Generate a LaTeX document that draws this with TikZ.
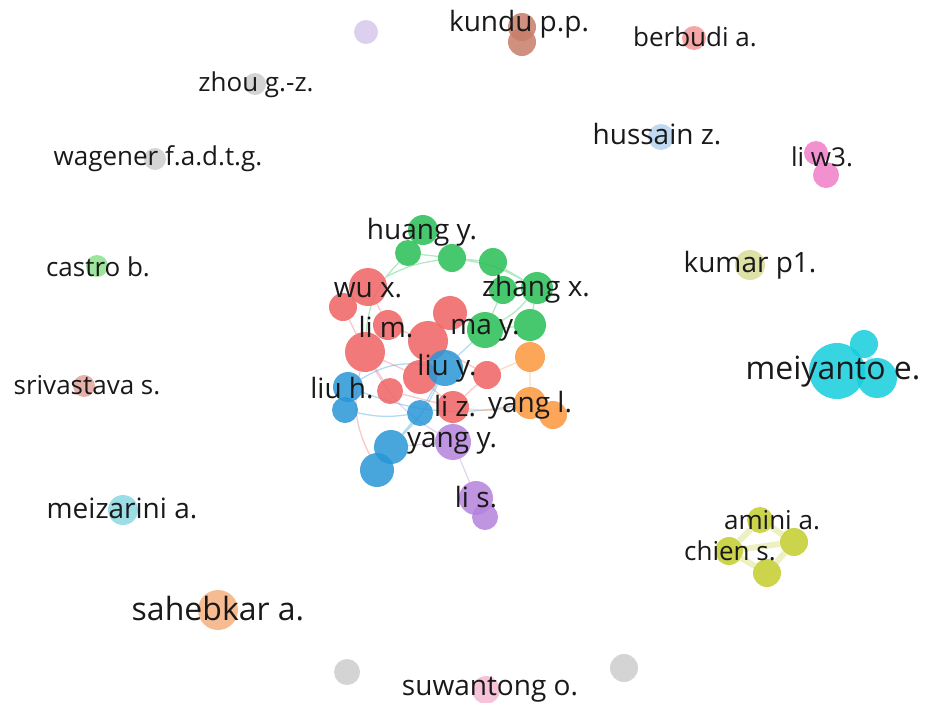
\documentclass[tikz,border=0pt]{standalone}
\usepackage{fontspec}
\setmainfont{Open Sans}
\usetikzlibrary{positioning, backgrounds}

\definecolor{redA}{RGB}{240,98,98}
\definecolor{greenA}{RGB}{40,190,85}
\definecolor{blueA}{RGB}{40,150,215}
\definecolor{orangeA}{RGB}{250,150,60}
\definecolor{purpleA}{RGB}{180,130,220}
\definecolor{cyanA}{RGB}{20,205,220}
\definecolor{oliveA}{RGB}{195,205,45}
\definecolor{brownA}{RGB}{200,125,105}
\definecolor{lilacA}{RGB}{215,200,235}
\definecolor{greyA}{RGB}{205,205,205}
\definecolor{pinkA}{RGB}{245,150,150}
\definecolor{magA}{RGB}{240,125,200}
\definecolor{skyA}{RGB}{180,210,238}
\definecolor{mintA}{RGB}{140,225,140}
\definecolor{roseA}{RGB}{225,165,155}
\definecolor{aquaA}{RGB}{140,215,225}
\definecolor{peachA}{RGB}{245,175,125}
\definecolor{khakiA}{RGB}{215,220,150}
\definecolor{blushA}{RGB}{245,185,210}

\tikzset{
  au/.style={circle, inner sep=0pt, minimum size=#1, fill opacity=0.85},
  lab/.style={text=black!90, inner sep=0pt, font=\fontsize{28}{30}\selectfont},
  labsmall/.style={lab, font=\fontsize{26}{28}\selectfont},
  labbig/.style={lab, font=\fontsize{32}{34}\selectfont},
  link/.style={line width=1.3pt, draw opacity=0.35},
  fat/.style={line width=6pt, draw opacity=0.3},
}

\begin{document}
\begin{tikzpicture}[x=1pt, y=-1pt]
\useasboundingbox (0,0) rectangle (925,702);

% isolated authors
\node[au=24, fill=lilacA] (lone) at (366,32) {};
\node[au=28, fill=brownA] (kundu2) at (522,42) {};
\node[au=28, fill=brownA] (kundu) at (522,27) {};
\node[au=24, fill=pinkA] (berbudi) at (694,38) {};
\node[au=22, fill=greyA] (zhou) at (255,84) {};
\node[au=26, fill=skyA] (hussain) at (661,137) {};
\node[au=26, fill=magA] (liw2) at (826,175) {};
\node[au=24, fill=magA] (liw) at (816,153) {};
\node[au=22, fill=greyA] (wagener) at (155,159) {};
\node[au=22, fill=mintA] (castro) at (97,266) {};
\node[au=30, fill=khakiA] (kumar) at (750,265) {};
\node[au=22, fill=roseA] (srivastava) at (84,386) {};
\node[au=30, fill=aquaA] (meizarini) at (123,510) {};
\node[au=40, fill=peachA] (sahebkar) at (218,610) {};
\node[au=26, fill=greyA] (grey1) at (347,672) {};
\node[au=28, fill=greyA] (grey2) at (624,668) {};
\node[au=28, fill=blushA] (suwantong) at (486,690) {};

% meiyanto group
\node[au=28, fill=cyanA] (mei2) at (864,344) {};
\node[au=40, fill=cyanA] (mei3) at (877,378) {};
\node[au=56, fill=cyanA] (meiyanto) at (837,371) {};

% amini group
\node[au=26, fill=oliveA] (amini) at (760,520) {};
\node[au=28, fill=oliveA] (ol2) at (794,542) {};
\node[au=28, fill=oliveA] (chien) at (729,551) {};
\node[au=28, fill=oliveA] (ol4) at (767,573) {};

% main cluster, green
\node[au=30, fill=greenA] (huang) at (423,230) {};
\node[au=26, fill=greenA] (g2) at (408,253) {};
\node[au=28, fill=greenA] (g3) at (452,258) {};
\node[au=28, fill=greenA] (g4) at (493,262) {};
\node[au=28, fill=greenA] (g5) at (503,290) {};
\node[au=32, fill=greenA] (zhang) at (537,288) {};
\node[au=32, fill=greenA] (g8) at (530,325) {};
\node[au=36, fill=greenA] (ma) at (485,330) {};
% orange
\node[au=30, fill=orangeA] (o1) at (530,357) {};
\node[au=28, fill=orangeA] (o3) at (553,415) {};
\node[au=32, fill=orangeA] (yangl) at (530,403) {};
% red
\node[au=38, fill=redA] (wu) at (368,287) {};
\node[au=28, fill=redA] (r2) at (343,307) {};
\node[au=34, fill=redA] (r4) at (450,313) {};
\node[au=30, fill=redA] (lim) at (388,325) {};
\node[au=40, fill=redA] (r6) at (365,352) {};
\node[au=40, fill=redA] (r5) at (428,341) {};
\node[au=28, fill=redA] (r7) at (487,375) {};
\node[au=34, fill=redA] (r8) at (420,377) {};
% blue
\node[au=36, fill=blueA] (liuy) at (445,368) {};
\node[au=26, fill=redA] (r9) at (390,391) {};
\node[au=30, fill=blueA] (liuh) at (348,387) {};
\node[au=26, fill=blueA] (b3) at (345,410) {};
\node[au=26, fill=blueA] (b4) at (420,413) {};
\node[au=32, fill=redA] (liz) at (453,407) {};
\node[au=34, fill=blueA] (b6) at (377,470) {};
\node[au=34, fill=blueA] (b5) at (391,447) {};
% purple
\node[au=36, fill=purpleA] (yangy) at (453,442) {};
\node[au=26, fill=purpleA] (p3) at (485,517) {};
\node[au=34, fill=purpleA] (lis) at (476,498) {};

% links
\begin{pgfonlayer}{background}
\draw[link, draw=greenA] (huang) -- (g2) (g2) -- (g3) (g3) -- (g4) (g4) -- (zhang)
  (g3) to[bend left=10] (zhang) (g5) -- (ma) (zhang) -- (g8) (g5) -- (zhang)
  (g2) to[bend right=20] (r6) (g3) to[bend right=10] (wu) (ma) -- (g8) (zhang) to[bend left=10] (ma);
\draw[link, draw=redA] (wu) -- (r2) (wu) -- (lim) (r2) -- (r6) (lim) -- (r5)
  (r5) -- (r4) (r6) -- (r9) (r6) -- (r8) (r8) -- (liz) (r7) -- (liz)
  (r4) -- (ma) (r9) -- (liz) (r5) -- (r7) (r6) to[bend right=20] (b6);
\draw[link, draw=blueA] (liuh) -- (b3) (liuy) -- (b4) (b4) -- (b5) (b5) -- (b6)
  (liuy) -- (ma) (liuh) to[bend right=15] (yangl) (liuh) to[bend left=20] (liuy)
  (liuy) to[bend left=10] (b5) (b3) to[bend right=10] (b4);
\draw[link, draw=orangeA] (r7) -- (o1) (o1) -- (yangl) (yangl) -- (o3)
  (o1) -- (g8) (liz) to[bend right=10] (yangl);
\draw[link, draw=purpleA] (yangy) -- (lis) (lis) -- (p3) (yangy) -- (liz)
  (yangy) -- (b5) (yangy) to[bend left=15] (r6);
\draw[fat, draw=cyanA] (meiyanto) -- (mei2) (mei2) -- (mei3);
\draw[fat, draw=oliveA] (amini) -- (ol2) (ol2) -- (ol4) (ol4) -- (chien)
  (chien) -- (amini) (chien) -- (ol2);
\draw[fat, draw=brownA] (kundu) -- (kundu2);
\draw[fat, draw=magA] (liw) -- (liw2);
\end{pgfonlayer}

% labels
\node[lab] (t-kundu) at (519,24) {kundu p.p.};
\node[labsmall] (t-berbudi) at (695,37) {berbudi a.};
\node[labsmall] (t-zhou) at (256,85) {zhou g.-z.};
\node[lab] (t-hussain) at (657,134) {hussain z.};
\node[labsmall] (t-liw) at (822,157) {li w3.};
\node[labsmall] (t-wagener) at (158,159) {wagener f.a.d.t.g.};
\node[labsmall] (t-castro) at (98,267) {castro b.};
\node[lab] (t-kumar) at (750,265) {kumar p1.};
\node[labsmall] (t-srivastava) at (87,385) {srivastava s.};
\node[labbig] (t-meiyanto) at (833,372) {meiyanto e.};
\node[lab] (t-meizarini) at (122,508) {meizarini a.};
\node[labsmall] (t-amini) at (772,520) {amini a.};
\node[labsmall] (t-chien) at (730,551) {chien s.};
\node[labbig] (t-sahebkar) at (218,609) {sahebkar a.};
\node[lab] (t-suwantong) at (490,690) {suwantong o.};
\node[lab] (t-huang) at (422,232) {huang y.};
\node[lab] (t-zhang) at (536,289) {zhang x.};
\node[lab] (t-wu) at (368,290) {wu x.};
\node[lab] (t-lim) at (386,327) {li m.};
\node[lab] (t-ma) at (485,330) {ma y.};
\node[lab] (t-liuy) at (447,368) {liu y.};
\node[lab] (t-liuh) at (342,388) {liu h.};
\node[lab] (t-liz) at (455,406) {li z.};
\node[lab] (t-yangl) at (530,405) {yang l.};
\node[lab] (t-yangy) at (452,443) {yang y.};
\node[lab] (t-lis) at (476,497) {li s.};
\end{tikzpicture}
\end{document}
